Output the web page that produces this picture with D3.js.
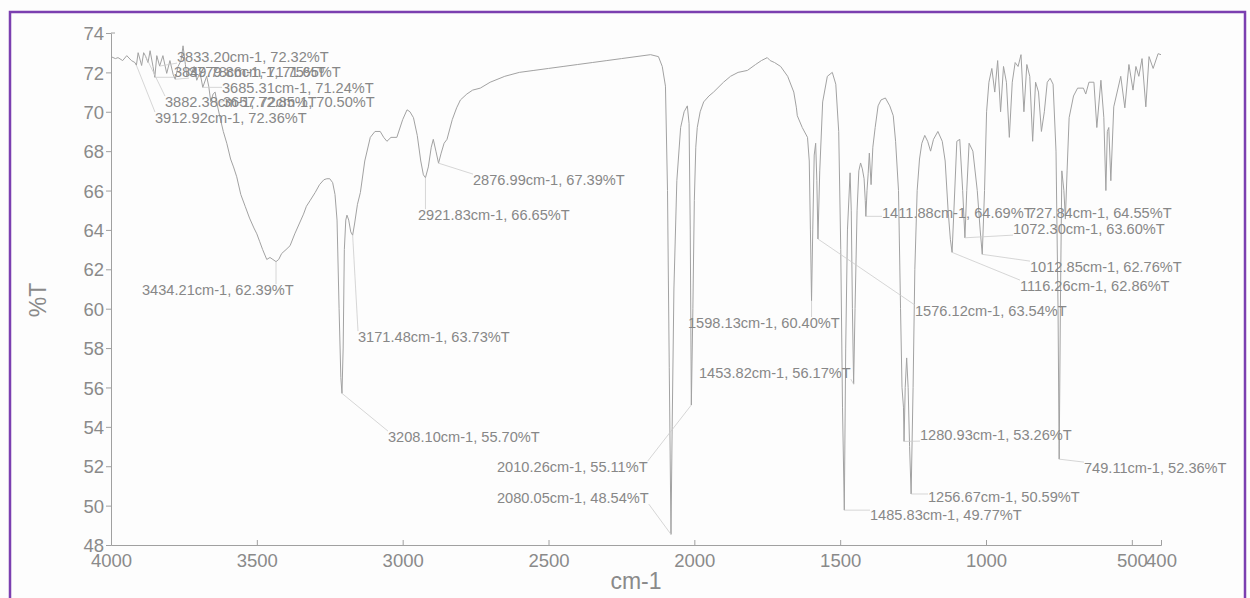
<!DOCTYPE html>
<html>
<head>
<meta charset="utf-8">
<script src="https://cdn.jsdelivr.net/npm/d3@7"></script>
<style>
    body { margin: 0; background: #fdfdfd; }
    svg { font-family: "Liberation Sans", Arial, sans-serif; }
</style>
</head>
<body>
<svg id="ir-chart" width="1250" height="598"></svg>
<script>
// IR spectrum: [wavenumber cm-1, %T]
var spectrum = [
    [4000, 72.8], [3985, 72.7], [3976, 72.75], [3960, 72.6], [3946, 72.85], [3930, 72.6],
    [3918, 72.5], [3912.92, 72.36], [3907, 73.0], [3895, 72.35], [3888, 73.0], [3882.38, 72.85],
    [3873, 72.5], [3866, 73.1], [3856, 72.3], [3849.78, 71.75], [3843, 72.85], [3833.2, 72.32],
    [3822, 72.85], [3809, 71.95], [3798, 72.6], [3787, 71.9], [3779.86, 71.65], [3770, 72.3],
    [3760, 72.6], [3753, 73.35], [3745, 72.4], [3740, 71.8], [3730, 72.2], [3723, 72.0],
    [3715, 72.3], [3706, 71.6], [3695, 72.0], [3685.31, 71.24], [3672, 71.8], [3665, 71.3],
    [3657.72, 70.5], [3650, 70.9], [3643, 71.0], [3635, 70.3], [3626, 69.7], [3615, 69.0],
    [3603, 68.4], [3590, 67.6], [3580, 67.2], [3569, 66.7], [3555, 65.8], [3540, 65.2],
    [3525, 64.6], [3510, 64.1], [3500, 63.8], [3490, 63.4], [3480, 63.0], [3466, 62.5],
    [3455, 62.6], [3445, 62.5], [3434.21, 62.39], [3425, 62.5], [3415, 62.8], [3400, 63.0],
    [3386, 63.2], [3370, 63.8], [3355, 64.3], [3340, 64.8], [3330, 65.2], [3317, 65.5],
    [3300, 65.9], [3285, 66.3], [3270, 66.55], [3260, 66.6], [3250, 66.6], [3240, 66.4],
    [3232, 65.8], [3225, 64.5], [3218, 60.0], [3212, 56.5], [3208.1, 55.7], [3204, 58.0],
    [3200, 63.0], [3195, 64.5], [3191, 64.75], [3185, 64.5], [3178, 63.9], [3171.48, 63.73],
    [3165, 64.3], [3155, 65.3], [3145, 65.9], [3130, 67.5], [3111, 68.7], [3095, 69.0],
    [3077, 69.0], [3065, 68.7], [3054, 68.5], [3040, 68.7], [3020, 68.7], [3000, 69.6],
    [2985, 70.1], [2975, 70.0], [2963, 69.7], [2950, 68.8], [2938, 67.5], [2929, 66.8],
    [2921.83, 66.65], [2912, 67.2], [2902, 68.2], [2895, 68.6], [2886, 68.0], [2876.99, 67.39],
    [2868, 67.9], [2858, 68.4], [2848, 68.6], [2830, 69.6], [2815, 70.2], [2802, 70.6],
    [2780, 70.9], [2760, 71.1], [2734, 71.2], [2700, 71.5], [2650, 71.8], [2600, 72.0],
    [2550, 72.1], [2500, 72.2], [2450, 72.3], [2400, 72.4], [2350, 72.5], [2300, 72.6],
    [2250, 72.7], [2200, 72.8], [2150, 72.9], [2123, 72.8], [2110, 72.3], [2099, 71.3],
    [2092, 66.0], [2086, 57.0], [2080.05, 48.54], [2076, 54.0], [2070, 61.0], [2060, 66.5],
    [2047, 69.2], [2035, 70.0], [2024, 70.3], [2018, 69.4], [2014, 64.0], [2010.26, 55.11],
    [2005, 60.0], [2000, 65.5], [1995, 68.2], [1990, 69.2], [1980, 70.0], [1968, 70.5],
    [1950, 70.8], [1934, 71.0], [1900, 71.5], [1876, 71.8], [1850, 72.0], [1818, 72.1],
    [1790, 72.4], [1770, 72.6], [1750, 72.75], [1740, 72.6], [1725, 72.5], [1704, 72.3],
    [1680, 71.8], [1659, 71.0], [1650, 70.2], [1647, 69.8], [1630, 69.2], [1612, 68.7],
    [1606, 67.5], [1602, 64.0], [1598.13, 60.4], [1594, 64.0], [1589, 67.8], [1584, 68.4],
    [1580, 66.5], [1576.12, 63.54], [1570, 67.0], [1560, 70.5], [1544, 71.8], [1527, 72.0],
    [1515, 71.4], [1505, 69.0], [1498, 63.0], [1492, 55.0], [1485.83, 49.77], [1481, 58.0],
    [1475, 64.0], [1466, 66.9], [1462, 65.0], [1458, 60.0], [1453.82, 56.17], [1449, 60.0],
    [1442, 65.0], [1436, 67.0], [1430, 67.4], [1424, 67.1], [1418, 66.6], [1414, 65.5],
    [1411.88, 64.69], [1408, 66.0], [1404, 66.85], [1400, 67.9], [1394, 66.3], [1388, 68.2],
    [1380, 69.2], [1370, 70.3], [1360, 70.6], [1345, 70.7], [1330, 70.3], [1318, 69.8],
    [1310, 68.5], [1300, 66.0], [1293, 60.0], [1288, 56.0], [1283, 55.0], [1280.93, 53.26],
    [1277, 56.0], [1272, 57.5], [1267, 56.0], [1262, 53.0], [1256.67, 50.59], [1250, 56.0],
    [1244, 62.0], [1236, 66.0], [1228, 67.6], [1220, 68.4], [1210, 68.8], [1200, 68.5],
    [1190, 68.0], [1180, 68.6], [1165, 69.0], [1150, 68.5], [1140, 67.5], [1130, 65.0],
    [1122, 63.5], [1116.26, 62.86], [1110, 65.0], [1100, 68.5], [1090, 68.6], [1080, 66.0],
    [1072.3, 63.6], [1066, 66.0], [1058, 68.4], [1045, 68.0], [1030, 66.0], [1020, 64.0],
    [1012.85, 62.76], [1005, 66.0], [998, 70.0], [990, 71.5], [980, 72.2], [970, 71.0],
    [960, 72.6], [950, 70.0], [940, 72.3], [930, 71.5], [920, 68.7], [910, 71.5],
    [900, 72.5], [890, 72.3], [880, 72.9], [870, 70.0], [860, 72.4], [850, 71.8],
    [840, 68.5], [830, 71.5], [820, 71.0], [810, 69.0], [800, 70.0], [790, 71.5],
    [780, 71.7], [770, 71.4], [760, 68.0], [753, 60.0], [749.11, 52.36], [745, 60.0],
    [740, 67.0], [733, 66.0], [727.84, 64.55], [722, 67.0], [715, 69.7], [700, 70.8],
    [686, 71.2], [666, 71.2], [658, 70.9], [647, 71.5], [630, 71.5], [620, 69.2],
    [606, 71.6], [596, 69.7], [589, 66.0], [584, 69.0], [579, 69.2], [572, 66.5],
    [562, 70.25], [538, 71.8], [524, 70.2], [510, 72.4], [496, 71.1], [486, 72.3],
    [476, 71.8], [465, 72.7], [452, 70.25], [441, 72.8], [427, 72.2], [410, 72.95],
    [400, 72.9]
];

// labelled peaks (wavenumber, %T) in the order the software printed them
var peakWn = [3912.92, 3882.38, 3849.78, 3833.20, 3779.86, 3685.31, 3657.72, 3434.21,
    3208.10, 3171.48, 2921.83, 2876.99, 2080.05, 2010.26, 1598.13, 1576.12, 1485.83,
    1453.82, 1411.88, 1280.93, 1256.67, 1116.26, 1072.30, 1012.85, 749.11, 727.84];
var peakT = [72.36, 72.85, 71.75, 72.32, 71.65, 71.24, 70.50, 62.39,
    55.70, 63.73, 66.65, 67.39, 48.54, 55.11, 60.40, 63.54, 49.77,
    56.17, 64.69, 53.26, 50.59, 62.86, 63.60, 62.76, 52.36, 64.55];

var xTicks = [4000, 3500, 3000, 2500, 2000, 1500, 1000, 500, 400];
var yTicks = [48, 50, 52, 54, 56, 58, 60, 62, 64, 66, 68, 70, 72, 74];

// where each peak label sits (left edge / vertical middle), page pixels
var labelPos = [[155, 118], [165, 102], [174, 72], [177, 57], [189, 72], [222, 88], [223, 102],
    [142, 290], [388, 437], [358, 337], [418, 215], [473, 180], [497, 498], [497, 467],
    [688, 323], [915, 311], [870, 515], [699, 373], [882, 213], [920, 435], [928, 497],
    [1020, 286], [1013, 229], [1030, 267], [1084, 468], [1028, 213]];

var margin = { left: 111, right: 89, top: 33, bottom: 53 };
var width = 1250 - margin.left - margin.right;
var height = 598 - margin.top - margin.bottom;
var grey = "#8a8a8a";

var svg = d3.select("#ir-chart");

// purple frame around the scan
svg.append("rect")
    .attr("x", 10).attr("y", 12)
    .attr("width", 1235).attr("height", 600)
    .attr("fill", "none")
    .attr("stroke", "#7b3fb0")
    .attr("stroke-width", 2.5);

var g = svg.append("g")
    .attr("transform", "translate(" + margin.left + "," + margin.top + ")");

var x = d3.scaleLinear().domain([4000, 400]).range([0, width]);
var y = d3.scaleLinear().domain([48, 74]).range([height, 0]);

// axes
var xAxis = g.append("g")
    .attr("transform", "translate(0," + height + ")")
    .call(d3.axisBottom(x).tickValues(xTicks).tickFormat(d3.format("d"))
        .tickSizeInner(-5).tickSizeOuter(-5).tickPadding(9));

var yAxis = g.append("g")
    .call(d3.axisLeft(y).tickValues(yTicks).tickSizeInner(5).tickSizeOuter(0).tickPadding(2));

[xAxis, yAxis].forEach(function (a) {
    a.selectAll("path, line").attr("stroke", "#a0a0a0");
    a.selectAll("text").attr("fill", grey).style("font-size", "18.5px");
});
yAxis.selectAll("text").attr("dy", "0.36em");

// small cap at the top of the y axis
g.append("line")
    .attr("x1", 0).attr("x2", 4)
    .attr("y1", y(74)).attr("y2", y(74))
    .attr("stroke", "#a0a0a0");

// axis titles
svg.append("text")
    .attr("x", 636).attr("y", 589)
    .attr("text-anchor", "middle")
    .attr("fill", grey)
    .style("font-size", "23px")
    .text("cm-1");

svg.append("text")
    .attr("transform", "translate(46,300) rotate(-90)")
    .attr("text-anchor", "middle")
    .attr("fill", grey)
    .style("font-size", "23px")
    .text("%T");

// spectrum trace
var line = d3.line()
    .x(d => x(d[0]))
    .y(d => y(d[1]));

g.append("path")
    .datum(spectrum)
    .attr("fill", "none")
    .attr("stroke", "#a2a2a2")
    .attr("stroke-width", 1)
    .attr("d", line);

// peak labels with leader lines to the nearest edge of each label
var leaders = svg.append("g");
var labels = svg.append("g");

peakWn.forEach(function (wn, i) {
    var px = margin.left + x(wn);
    var py = margin.top + y(peakT[i]);
    var t = labels.append("text")
        .attr("x", labelPos[i][0])
        .attr("y", labelPos[i][1])
        .attr("dy", "0.35em")
        .attr("fill", "#878787")
        .style("font-size", "14.6px")
        .text(wn.toFixed(2) + "cm-1, " + peakT[i].toFixed(2) + "%T");
    var b = t.node().getBBox();
    var ex = Math.max(b.x, Math.min(px, b.x + b.width));
    var ey = Math.max(b.y + 2, Math.min(py, b.y + b.height - 2));
    leaders.append("line")
        .attr("x1", px).attr("y1", py)
        .attr("x2", ex).attr("y2", ey)
        .attr("stroke", "#cccccc")
        .attr("stroke-width", 0.8);
});
</script>
</body>
</html>
